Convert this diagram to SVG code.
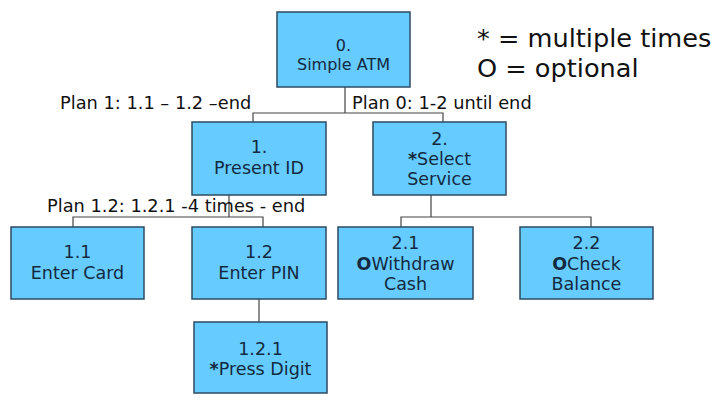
<svg xmlns="http://www.w3.org/2000/svg" width="728" height="400" viewBox="0 0 728 400">
<style>
.box{fill:#66CCFF;stroke:#2E4A63;stroke-width:1.5}
.t{font-family:"DejaVu Sans","Liberation Sans",sans-serif;font-size:17.5px;fill:#13293f;text-anchor:middle}
.lbl{font-family:"DejaVu Sans","Liberation Sans",sans-serif;font-size:17.8px;fill:#111}
.leg{font-family:"DejaVu Sans","Liberation Sans",sans-serif;font-size:25.6px;fill:#111}
.b{font-weight:bold}
.c{fill:none;stroke:#444;stroke-width:1.2}
</style>
<rect width="728" height="400" fill="#fff"/>
<g id="connectors">
<path class="c" d="M345 87V113M253 122V113H443V122"/>
<path class="c" d="M229 195V217M73 227V217H263V227"/>
<path class="c" d="M431 195V217M401 227V217H591V227"/>
<path class="c" d="M259 299V322"/>
</g>
<g id="n0"><rect class="box" x="277" y="12" width="133" height="75"/>
<text class="t" style="font-size:16px" x="343.5" y="51">0.</text>
<text class="t" style="font-size:16px" x="343.5" y="70">Simple ATM</text></g>
<g id="n1"><rect class="box" x="192" y="122" width="134" height="73"/>
<text class="t" x="259" y="153">1.</text>
<text class="t" x="259" y="174">Present ID</text></g>
<g id="n2"><rect class="box" x="373" y="122" width="133" height="73"/>
<text class="t" x="439.5" y="145">2.</text>
<text class="t" x="439.5" y="165"><tspan class="b">*</tspan>Select</text>
<text class="t" x="439.5" y="185">Service</text></g>
<g id="n11"><rect class="box" x="11" y="227" width="133" height="72"/>
<text class="t" x="77.5" y="258">1.1</text>
<text class="t" x="77.5" y="279">Enter Card</text></g>
<g id="n12"><rect class="box" x="192" y="227" width="134" height="72"/>
<text class="t" x="259" y="258">1.2</text>
<text class="t" x="259" y="279">Enter PIN</text></g>
<g id="n121"><rect class="box" x="194" y="322" width="133" height="71"/>
<text class="t" x="260.5" y="355">1.2.1</text>
<text class="t" x="260.5" y="375"><tspan class="b">*</tspan>Press Digit</text></g>
<g id="n21"><rect class="box" x="338" y="227" width="135" height="72"/>
<text class="t" x="405.5" y="249">2.1</text>
<text class="t" x="405.5" y="270"><tspan class="b">O</tspan>Withdraw</text>
<text class="t" x="405.5" y="290">Cash</text></g>
<g id="n22"><rect class="box" x="520" y="227" width="133" height="72"/>
<text class="t" x="586.5" y="249">2.2</text>
<text class="t" x="586.5" y="270"><tspan class="b">O</tspan>Check</text>
<text class="t" x="586.5" y="290">Balance</text></g>
<g id="labels">
<text class="lbl" x="60" y="109">Plan 1: 1.1 – 1.2 –end</text>
<text class="lbl" x="352" y="109">Plan 0: 1-2 until end</text>
<text class="lbl" x="47" y="212">Plan 1.2: 1.2.1 -4 times - end</text>
<text class="leg" x="477" y="47">* = multiple times</text>
<text class="leg" x="477" y="77">O = optional</text>
</g>
</svg>
